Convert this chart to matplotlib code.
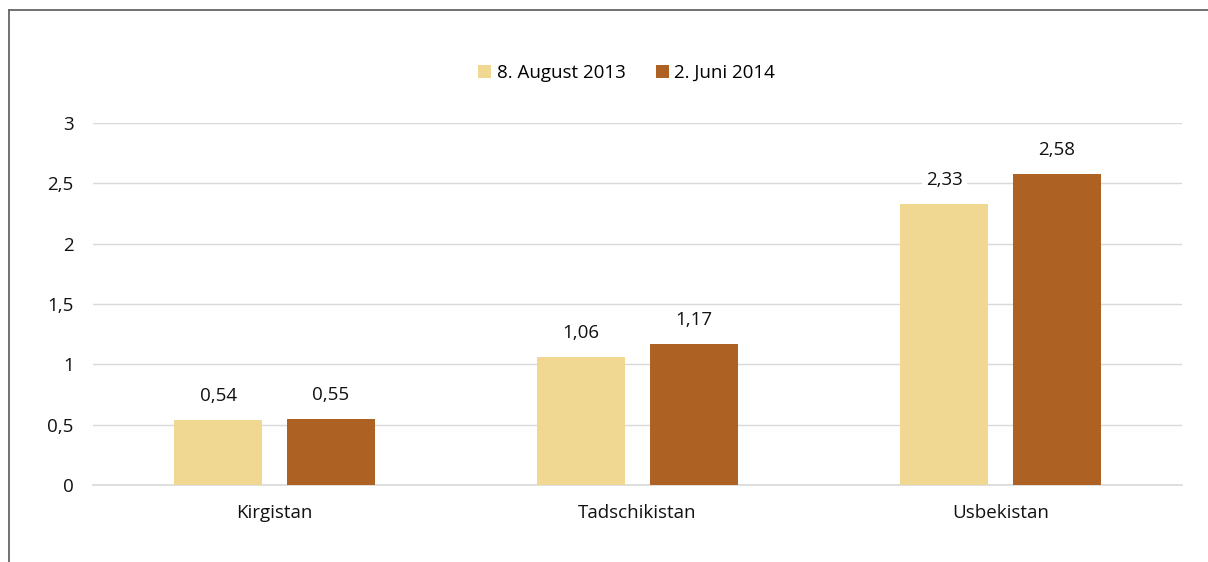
import numpy as np
import matplotlib.pyplot as plt
from matplotlib.lines import Line2D

categories = ["Kirgistan", "Tadschikistan", "Usbekistan"]
series_names = ["8. August 2013", "2. Juni 2014"]
values_2013 = [0.54, 1.06, 2.33]
values_2014 = [0.55, 1.17, 2.58]
yticks = [0, 0.5, 1, 1.5, 2, 2.5, 3]
ytick_labels = ["0", "0,5", "1", "1,5", "2", "2,5", "3"]

colors = ["#F0D892", "#AD6122"]

plt.rcParams['font.family'] = ['Open Sans', 'DejaVu Sans']
FS = 13.5


def main():
    fig = plt.figure(figsize=(12.08, 5.62), dpi=100)
    ax = fig.add_axes([0.077, 0.137, 0.9015, 0.644])

    x = np.arange(len(categories)) + 0.5
    width = 0.243
    offset = 0.155
    for vals, name, col, sign in zip([values_2013, values_2014], series_names, colors, [-1, 1]):
        bars = ax.bar(x + sign * offset, vals, width, color=col, label=name, zorder=3)
        for b, v in zip(bars, vals):
            ax.text(b.get_x() + b.get_width() / 2, v + 0.2, f"{v:.2f}".replace(".", ","),
                    ha="center", va="center", fontsize=FS, color="#111111", zorder=4,
                    bbox=dict(facecolor="white", edgecolor="none", pad=3))

    ax.set_xlim(0, 3)
    ax.set_ylim(0, 3)
    ax.set_yticks(yticks)
    ax.set_yticklabels(ytick_labels)
    ax.set_xticks(x)
    ax.set_xticklabels(categories)
    ax.tick_params(axis="both", length=0, labelsize=FS, colors="#111111")
    ax.tick_params(axis="y", pad=14)
    ax.tick_params(axis="x", pad=14)
    ax.yaxis.grid(True, color="#D9D9D9", linewidth=1, zorder=0)
    for s in ["top", "right", "left"]:
        ax.spines[s].set_visible(False)
    ax.spines["bottom"].set_color("#D9D9D9")
    ax.spines["bottom"].set_linewidth(1.2)

    ax.legend(loc="center", bbox_to_anchor=(0.49, 1.138), ncol=2, frameon=False,
              fontsize=FS, handlelength=0.7, handleheight=0.7, handletextpad=0.3,
              columnspacing=1.6)

    # frame lines
    fig.add_artist(Line2D([9 / 1208, 9 / 1208], [0, 1 - 10 / 562], color="#666666", linewidth=1.3))
    fig.add_artist(Line2D([9 / 1208, 1], [1 - 10 / 562, 1 - 10 / 562], color="#666666", linewidth=1.3))

    fig.savefig("out.png", dpi=100)


if __name__ == '__main__':
    main()
